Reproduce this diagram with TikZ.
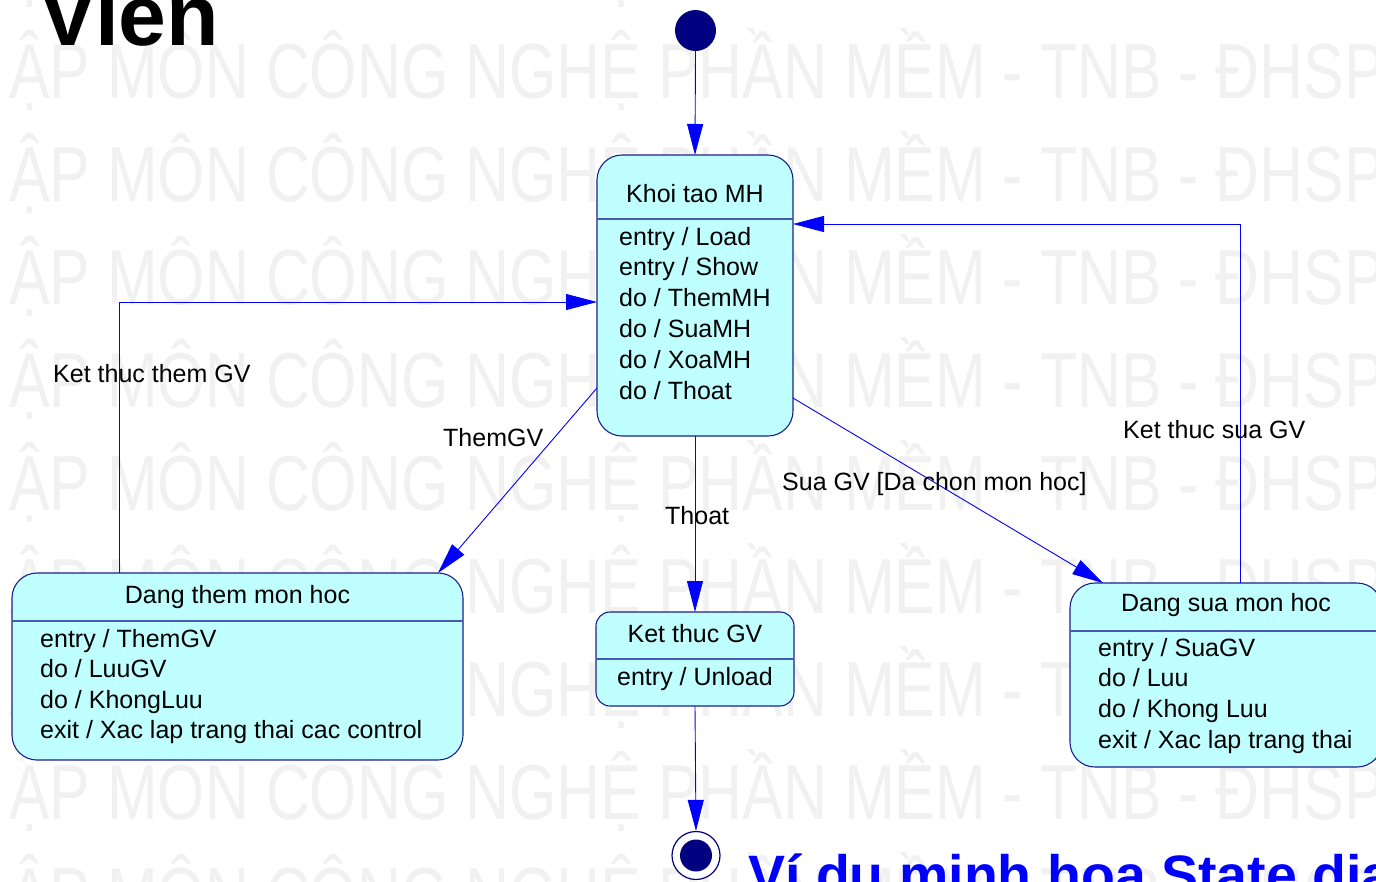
\documentclass[tikz,border=0pt]{standalone}
\usepackage{fontspec}
\setmainfont{Liberation Sans}
\usepackage{graphicx}
\usetikzlibrary{arrows.meta,calc}

\definecolor{statefill}{RGB}{192,255,255}
\definecolor{stateline}{RGB}{30,30,140}
\definecolor{divline}{RGB}{70,90,180}
\definecolor{flowblue}{RGB}{0,0,255}
\definecolor{dotnavy}{RGB}{0,0,128}
\definecolor{wmgray}{RGB}{241,241,241}
\newcommand{\umlfont}{\fontsize{25}{30}\selectfont}

\begin{document}
\begin{tikzpicture}[x=1pt,y=-1pt,
  state/.style={draw=stateline, fill=statefill, line width=1.1pt,
                rounded corners=25pt, inner sep=0pt, outer sep=0pt},
  divider/.style={draw=divline, line width=1.1pt},
  statename/.style={font=\umlfont, inner sep=0pt, anchor=base},
  act/.style={font=\umlfont, inner sep=0pt, anchor=base west},
  trig/.style={font=\umlfont, inner sep=0pt, anchor=base west},
  flow/.style={draw=flowblue, line width=0.9pt,
               -{Triangle[length=31pt,width=16pt]}},
  wm/.style={text=wmgray, font=\fontsize{78}{78}\selectfont,
             inner sep=0pt, anchor=base west},
]
\useasboundingbox (0,0) rectangle (1376,881);
\clip (0,0) rectangle (1376,881);
\fill[white] (0,0) rectangle (1376,881);

% background watermark rows
\foreach \k in {-1,...,8}
  \node[wm] (wm\k) at (9,{98+103*\k})
    {\scalebox{0.78}[1]{ẬP MÔN CÔNG NGHỆ PHẦN MỀM - TNB - ĐHSP}};

% headings
\node[font=\fontsize{86}{86}\selectfont\bfseries, anchor=base west,
      inner sep=0pt] (heading) at (39,45) {Vien};
\node[font=\fontsize{55.5}{55.5}\selectfont\bfseries, text=flowblue,
      anchor=base west, inner sep=0pt] (caption) at (748,894)
      {Ví dụ minh họa State diagram};

% pseudo states
\node[circle, fill=dotnavy, minimum size=41pt, inner sep=0pt] (init) at (695.5,30.5) {};
\node[circle, draw=dotnavy, fill=white, line width=1.2pt, minimum size=48pt,
      inner sep=0pt] (fin) at (696,855.5) {};
\node[circle, fill=dotnavy, minimum size=32pt, inner sep=0pt] (fincore) at (fin.center) {};

% state: Khoi tao MH
\node[state, minimum width=196pt, minimum height=281pt] (khoi) at (695,295.5) {};
\draw[divider] (597,219) -- (793,219);
\node[statename] (khoiname) at (695,202) {Khoi tao MH};
\foreach \t [count=\i] in {entry / Load, entry / Show, do / ThemMH,
                           do / SuaMH, do / XoaMH, do / Thoat}
  \node[act] (khoiact\i) at (619,{245+30.8*(\i-1)}) {\t};

% state: Dang them mon hoc
\node[state, minimum width=451pt, minimum height=187pt] (them) at (237.5,666.5) {};
\draw[divider] (12,621) -- (463,621);
\node[statename] (themname) at (237.5,603) {Dang them mon hoc};
\foreach \t [count=\i] in {entry / ThemGV, do / LuuGV, do / KhongLuu,
                           exit / Xac lap trang thai cac control}
  \node[act] (themact\i) at (40,{647+30.5*(\i-1)}) {\t};

% state: Ket thuc GV
\node[state, rounded corners=14pt, minimum width=198pt, minimum height=94pt]
  (ketgv) at (695,659) {};
\draw[divider] (596,659) -- (794,659);
\node[statename] (ketgvname) at (695,642) {Ket thuc GV};
\node[statename] (ketgvact) at (695,685) {entry / Unload};

% state: Dang sua mon hoc
\node[state, minimum width=312pt, minimum height=184pt] (sua) at (1226,675) {};
\draw[divider] (1070,631) -- (1382,631);
\node[statename] (suaname) at (1226,611) {Dang sua mon hoc};
\foreach \t [count=\i] in {entry / SuaGV, do / Luu, do / Khong Luu,
                           exit / Xac lap trang thai}
  \node[act] (suaact\i) at (1098,{656+30.7*(\i-1)}) {\t};

% transitions
\draw[flow] (init.south) -- (khoi.north);
\draw[flow] (khoi.south) -- (ketgv.north);
\draw[flow] (ketgv.south) -- (fin.north);
\draw[flow] ($(khoi.south west)+(0,-48)$) -- ($(them.north west)+(426,0)$);
\draw[flow] ($(khoi.south east)+(0,-38)$) -- ($(sua.north west)+(33,0)$);
\draw[flow] ($(them.north west)+(107,0)$) |- ($(khoi.north west)+(0,147)$);
\draw[flow] ($(sua.north west)+(170,0)$) |- ($(khoi.north east)+(0,69)$);

% transition labels
\node[trig] (lthem) at (443,446) {ThemGV};
\node[trig] (lthoat) at (665,524) {Thoat};
\node[trig] (lsua) at (782,490) {Sua GV [Da chon mon hoc]};
\node[trig] (lendthem) at (53,382) {Ket thuc them GV};
\node[trig] (lendsua) at (1123,438) {Ket thuc sua GV};
\end{tikzpicture}
\end{document}
